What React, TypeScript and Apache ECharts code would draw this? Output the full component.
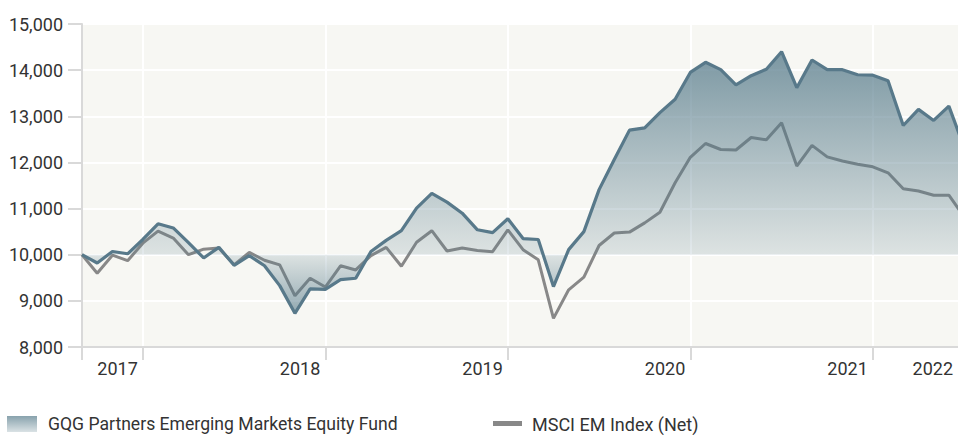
import React, { useEffect, useRef } from "react";
import * as echarts from "echarts";

// ---- data (growth of 10,000, month-end) ----
const months = [
  "2017-08", "2017-09", "2017-10", "2017-11", "2017-12",
  "2018-01", "2018-02", "2018-03", "2018-04", "2018-05", "2018-06", "2018-07", "2018-08", "2018-09", "2018-10", "2018-11", "2018-12",
  "2019-01", "2019-02", "2019-03", "2019-04", "2019-05", "2019-06", "2019-07", "2019-08", "2019-09", "2019-10", "2019-11", "2019-12",
  "2020-01", "2020-02", "2020-03", "2020-04", "2020-05", "2020-06", "2020-07", "2020-08", "2020-09", "2020-10", "2020-11", "2020-12",
  "2021-01", "2021-02", "2021-03", "2021-04", "2021-05", "2021-06", "2021-07", "2021-08", "2021-09", "2021-10", "2021-11", "2021-12",
  "2022-01", "2022-02", "2022-03", "2022-04", "2022-05", "2022-06",
];

const fundValues = [
  10000, 9820, 10070, 10020, 10330,
  10670, 10580, 10260, 9930, 10160, 9770, 9980, 9760, 9330, 8730, 9260, 9250,
  9460, 9490, 10070, 10310, 10520, 11010, 11330, 11140, 10900, 10540, 10480, 10780,
  10350, 10330, 9310, 10110, 10500, 11410, 12065, 12700, 12750, 13080, 13370, 13950,
  14170, 14010, 13680, 13880, 14020, 14400, 13620, 14220, 14010, 14010, 13900, 13890,
  13770, 12800, 13150, 12910, 13220, 12330,
];

const indexValues = [
  10000, 9600, 9990, 9870, 10250,
  10510, 10360, 10000, 10120, 10145, 9780, 10050, 9880, 9780, 9110, 9490, 9300,
  9760, 9670, 9980, 10160, 9750, 10270, 10520, 10080, 10145, 10090, 10065, 10540,
  10110, 9890, 8620, 9240, 9515, 10200, 10470, 10490, 10690, 10920, 11560, 12110,
  12410, 12280, 12270, 12540, 12490, 12860, 11920, 12370, 12120, 12030, 11960, 11905,
  11775, 11430, 11380, 11290, 11290, 10820,
];

const yearLabels = ["2017", "2018", "2019", "2020", "2021", "2022"];
const seriesNames = ["GQG Partners Emerging Markets Equity Fund", "MSCI EM Index (Net)"];

// ---- layout ----
const W = 958;
const H = 435;
const GRID = { left: 82, right: 0, top: 24, bottom: 88 };
const Y_MIN = 8000;
const Y_MAX = 15000;
const Y_STEP = 1000;
const BASE = 10000;
const X_MAX = 57.6; // visible window in months from first point
const FONT = "Roboto";

export default function App() {
  const ref = useRef<HTMLDivElement>(null);

  useEffect(() => {
    document.body.style.margin = "0";
    const chart = echarts.init(ref.current!, undefined, { renderer: "svg" });

    const plotH = H - GRID.top - GRID.bottom;
    const yPix = (v: number) => GRID.top + ((Y_MAX - v) / (Y_MAX - Y_MIN)) * plotH;
    const fMax = Math.max(...fundValues);
    const fMin = Math.min(...fundValues);
    const g0 = yPix(fMax);
    const g1 = yPix(fMin);
    const baseStop = (yPix(BASE) - g0) / (g1 - g0);

    const areaGradient = new echarts.graphic.LinearGradient(
      0, g0, 0, g1,
      [
        { offset: 0, color: "rgba(84,121,137,0.76)" },
        { offset: baseStop, color: "rgba(84,121,137,0.16)" },
        { offset: 1, color: "rgba(84,121,137,0.62)" },
      ],
      true
    );

    const yearEnds = months
      .map((m, i) => (m.endsWith("-12") ? i : -1))
      .filter((i) => i >= 0);
    const labelVals = [...yearEnds, X_MAX];

    const fundData = fundValues.map((v, i) => [i, v]);
    const indexData = indexValues.map((v, i) => [i, v]);

    chart.setOption({
      animation: false,
      grid: {
        left: GRID.left,
        right: GRID.right,
        top: GRID.top,
        bottom: GRID.bottom,
        show: true,
        backgroundColor: "#f7f7f3",
        borderWidth: 0,
        containLabel: false,
        outerBoundsMode: "none",
      },
      xAxis: {
        type: "value",
        min: 0,
        max: X_MAX,
        axisLine: { show: true, lineStyle: { color: "#d9d9d9", width: 2 } },
        axisTick: {
          show: true,
          length: 13,
          lineStyle: { color: "#d9d9d9", width: 2 },
          customValues: [0, ...yearEnds],
        },
        axisLabel: {
          customValues: labelVals,
          formatter: (v: number) => {
            let best = 0;
            labelVals.forEach((lv, k) => {
              if (Math.abs(lv - v) < Math.abs(labelVals[best] - v)) best = k;
            });
            return yearLabels[best];
          },
          align: "right",
          padding: [0, 5, 0, 0],
          margin: 12,
          color: "#333",
          fontSize: 18,
          fontFamily: FONT,
        },
        splitLine: { show: true, showMinLine: false, lineStyle: { color: "#ffffff", width: 2 } },
      },
      yAxis: {
        type: "value",
        min: Y_MIN,
        max: Y_MAX,
        interval: Y_STEP,
        axisLine: { show: true, lineStyle: { color: "#d9d9d9", width: 2 } },
        axisTick: { show: true, length: 14, lineStyle: { color: "#d9d9d9", width: 2 } },
        axisLabel: {
          margin: 19,
          color: "#333",
          fontSize: 18,
          fontFamily: FONT,
          formatter: (v: number) => v.toLocaleString("en-US"),
        },
        splitLine: { show: true, showMinLine: false, lineStyle: { color: "#ffffff", width: 2 } },
      },
      series: [
        {
          name: seriesNames[1],
          type: "line",
          data: indexData,
          symbol: "none",
          clip: true,
          lineStyle: { color: "#888888", width: 3 },
          z: 2,
        },
        {
          name: seriesNames[0],
          type: "line",
          data: fundData,
          symbol: "none",
          clip: true,
          lineStyle: { color: "#58798a", width: 3.2 },
          areaStyle: { origin: BASE, color: areaGradient, opacity: 1 },
          z: 3,
        },
      ],
      graphic: [
        {
          type: "rect",
          shape: { x: 7, y: 416, width: 30, height: 16 },
          style: {
            fill: new echarts.graphic.LinearGradient(0, 0, 0, 1, [
              { offset: 0, color: "#88a2ad" },
              { offset: 1, color: "#dae2e5" },
            ]),
          },
        },
        {
          type: "text",
          x: 48,
          y: 424,
          style: {
            text: seriesNames[0],
            fill: "#333",
            font: `17.6px ${FONT}`,
            verticalAlign: "middle",
          },
        },
        {
          type: "rect",
          shape: { x: 493, y: 421, width: 29, height: 5 },
          style: { fill: "#888888" },
        },
        {
          type: "text",
          x: 532,
          y: 424,
          style: {
            text: seriesNames[1],
            fill: "#333",
            font: `18px ${FONT}`,
            verticalAlign: "middle",
          },
        },
      ],
    });

    return () => chart.dispose();
  }, []);

  return <div ref={ref} style={{ width: W, height: H }} />;
}
